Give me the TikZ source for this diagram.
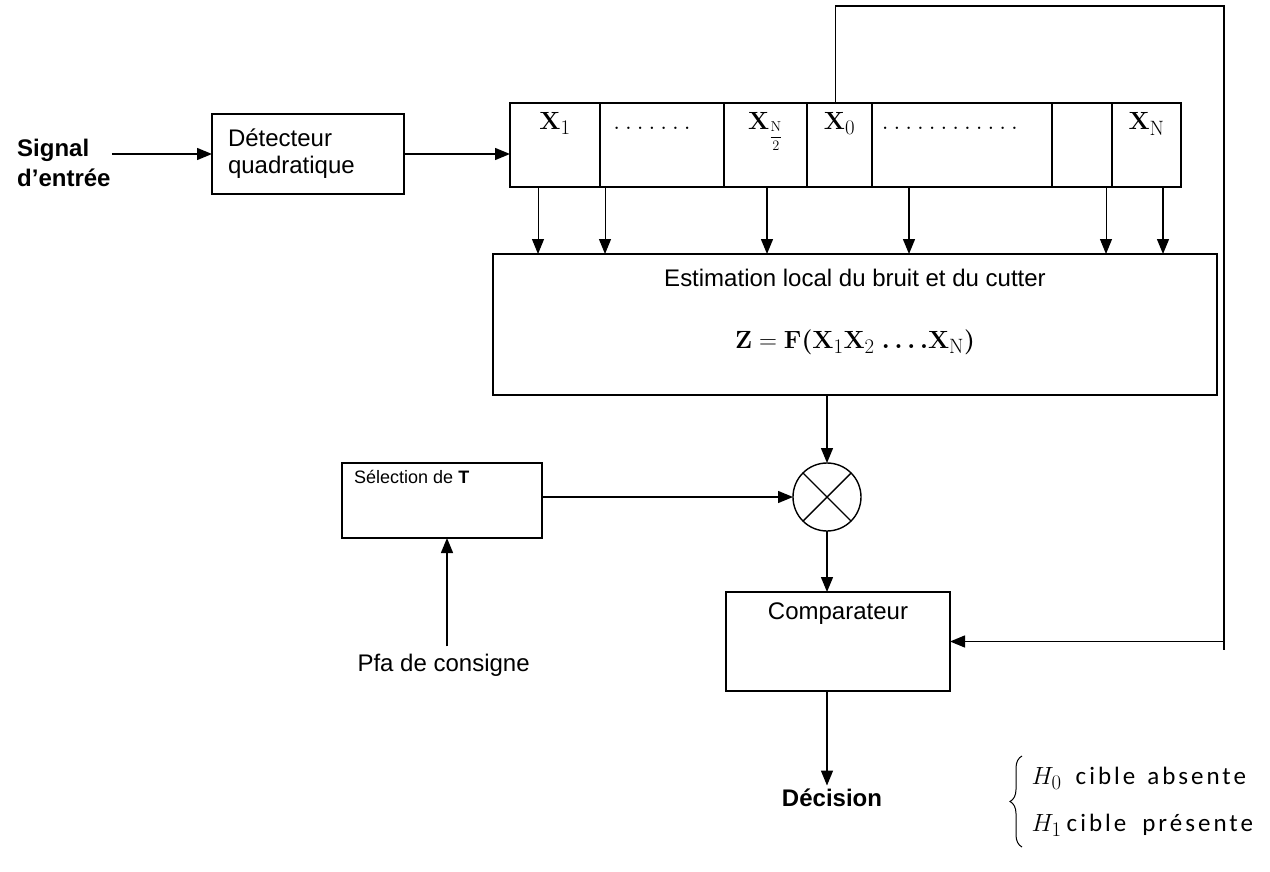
\documentclass[tikz,border=0pt]{standalone}
\usepackage{amsmath}
\usepackage[no-math]{fontspec}
\setmainfont{Liberation Sans}
\newfontfamily\calib[LetterSpace=12]{Carlito}
\usetikzlibrary{arrows.meta,decorations.pathreplacing,calc}
% one spaced baseline dot
\newcommand\dd{$\mathbf{.}$\hspace{5pt}}
% index set at a fixed size
\newcommand\sub[1]{\mbox{\fontsize{20}{20}\selectfont$#1$}}
\newcommand\subfrac[2]{\mbox{\fontsize{15}{15}\selectfont$\dfrac{#1}{#2}$}}
\begin{document}
\begin{tikzpicture}[x=1pt,y=-1pt,
  box/.style={draw, line width=1.4pt, inner sep=0pt, outer sep=0pt, anchor=north west},
  cell/.style={box, minimum height=84pt},
  arr/.style={line width=1.4pt, -{Triangle[length=15pt,width=12pt]}},
  thin arr/.style={arr, line width=1pt},
  ln/.style={line width=1.4pt},
  txt/.style={font=\fontsize{24}{27}\selectfont},
  btxt/.style={font=\fontsize{24}{30}\selectfont\bfseries},
  xlab/.style={font=\fontsize{26}{30}\selectfont, anchor=base, inner sep=0pt}]
\useasboundingbox (0,0) rectangle (1270,872);

% input stage
\node[btxt, anchor=west, align=left, inner sep=1pt] (sig) at (16,163) {Signal\\d'entrée};
\node[box, txt, minimum width=192pt, minimum height=80pt, align=left, text width=160pt] (det) at (212,114) {Détecteur\\quadratique};
\draw[arr] (sig.east |- det.west) -- (det.west);

% shift register cells
\node[cell, minimum width=90pt]  (c1) at (510,103) {};
\node[cell, minimum width=124pt] (c2) at (c1.north east) {};
\node[cell, minimum width=83pt]  (c3) at (c2.north east) {};
\node[cell, minimum width=65pt]  (c4) at (c3.north east) {};
\node[cell, minimum width=180pt] (c5) at (c4.north east) {};
\node[cell, minimum width=60pt]  (c6) at (c5.north east) {};
\node[cell, minimum width=69pt]  (c7) at (c6.north east) {};
\draw[arr] (det.east) -- (det.east -| c1.west);

\node[xlab] (l1) at ($(c1.north)+(0,27)$) {$\mathbf{X}_{\sub{1}}$};
\node[xlab] (l2) at ($(c2.north)+(-10,27)$) {\dd\dd\dd\dd\dd\dd$\mathbf{.}$};
\node[xlab] (l3) at ($(c3.north)+(0,27)$) {$\mathbf{X}_{\subfrac{\mathrm{N}}{2}}$};
\node[xlab] (l4) at ($(c4.north)+(0,27)$) {$\mathbf{X}_{\sub{0}}$};
\node[xlab] (l5) at ($(c5.north)+(-12,27)$) {\dd\dd\dd\dd\dd\dd\dd\dd\dd\dd\dd$\mathbf{.}$};
\node[xlab] (l7) at ($(c7.north)+(0,27)$) {$\mathbf{X}_{\sub{\mathrm{N}}}$};

% local noise / clutter estimator
\node[box, minimum width=724pt, minimum height=141pt] (est) at (493,254) {};
\node[txt] (estt) at ($(est.north)+(0,24)$) {Estimation local du bruit et du cutter};
\node[font=\fontsize{26}{30}\selectfont] (estf) at ($(est.north)+(0,88)$)
  {$\mathbf{Z}=\mathbf{F}\boldsymbol{(}\mathbf{X}_{\sub{1}}\mathbf{X}_{\sub{2}}\ \boldsymbol{\ldots.}\mathbf{X}_{\sub{\mathrm{N}}}\boldsymbol{)}$};

\draw[thin arr] (538,0 |- c1.south) -- (538,0 |- est.north);
\draw[thin arr] (605,0 |- c1.south) -- (605,0 |- est.north);
\foreach \xx in {767,909}
  \draw[arr] (\xx,0 |- c1.south) -- (\xx,0 |- est.north);
\draw[thin arr] (1106,0 |- c1.south) -- (1106,0 |- est.north);
\draw[arr] (1163,0 |- c1.south) -- (1163,0 |- est.north);

% multiplier
\node[draw, circle, line width=1.4pt, minimum size=68pt, inner sep=0pt, outer sep=0pt] (mul) at (827,497) {};
\draw[ln] (mul.north east) -- (mul.south west) (mul.north west) -- (mul.south east);
\draw[arr] (mul.north |- est.south) -- (mul.north);

% threshold factor selection
\node[box, minimum width=200pt, minimum height=75pt] (sel) at (342,463) {};
\node[font=\fontsize{18}{21}\selectfont, anchor=north west, inner sep=0pt] (selt) at ($(sel.north west)+(12,7)$) {Sélection de \textbf{T}};
\draw[arr] (mul.west -| sel.east) -- (mul.west);
\node[txt, anchor=west] (pfa) at (354,665) {Pfa de consigne};
\coordinate (pfain) at ($(sel.south)+(5,0)$);
\draw[arr] ($(pfain |- pfa.north)+(0,-4)$) -- (pfain);

% comparator
\node[box, minimum width=224pt, minimum height=99pt] (cmp) at (726,592) {};
\node[txt] (cmpt) at ($(cmp.north)+(0,22)$) {Comparateur};
\draw[arr] (mul.south) -- (mul.south |- cmp.north);

% cell under test fed back to the comparator
\coordinate (fbtop) at (1224,6);
\coordinate (fbstart) at ($(c4.north)+(-4,0)$);
\draw[arr] (fbstart) |- (fbtop) |- (cmp.east);
\draw[ln] (fbtop |- cmp.east) -- ++(0,8);

% decision
\node[btxt] (dec) at (832,798) {Décision};
\draw[arr] (mul.south |- cmp.south) -- (mul.south |- dec.north);

\draw[line width=1pt, decorate, decoration={brace, amplitude=12pt}] (1022,847) -- (1022,756);
\node[anchor=west, font=\fontsize{25}{28}\selectfont] (h0) at (1028,778) {$H_{\sub{0}}$\hspace{14pt}{\calib cible\hspace{12pt}absente}};
\node[anchor=west, font=\fontsize{25}{28}\selectfont] (h1) at (1028,825) {$H_{\sub{1}}$\hspace{5pt}{\calib cible\hspace{16pt}présente}};
\end{tikzpicture}
\end{document}
